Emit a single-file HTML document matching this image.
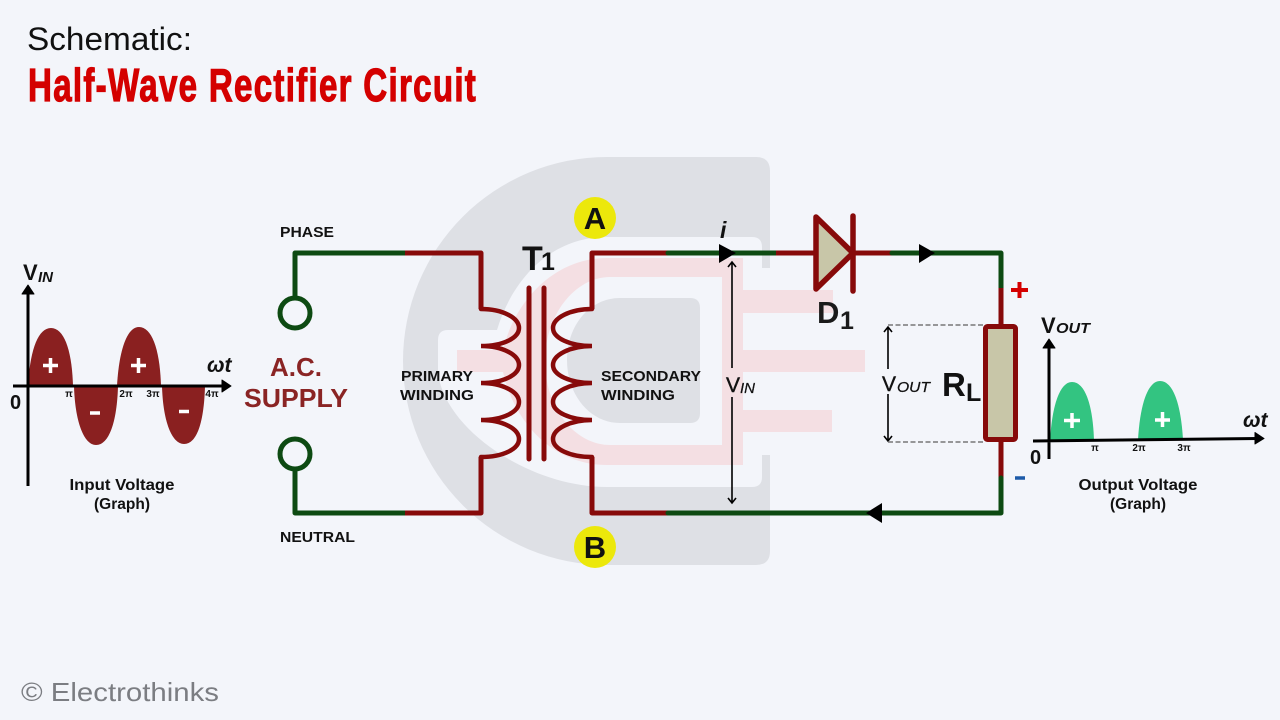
<!DOCTYPE html>
<html><head><meta charset="utf-8"><style>
html,body{margin:0;padding:0;background:#f3f5fa}
svg{display:block}
text{font-family:"Liberation Sans",sans-serif}
.b{font-weight:700;fill:#111}
.g{fill:none;stroke:#0d4a12;stroke-width:5;stroke-linejoin:round;stroke-linecap:round}
.r{fill:none;stroke:#870a0a;stroke-width:5;stroke-linejoin:round}
.c{fill:none;stroke:#870a0a;stroke-width:4.5;stroke-linecap:round}
.t{fill:none;stroke:#000;stroke-width:1.6}
</style></head><body>
<svg width="1280" height="720" viewBox="0 0 1280 720" xmlns="http://www.w3.org/2000/svg">
<rect width="1280" height="720" fill="#f3f5fa"/>
<!-- watermark -->
<path d="M756,157 Q770,157 770,171 V551 Q770,565 756,565 H607 A204,204 0 0 1 607,157 Z" fill="#dee0e5"/>
<path d="M775,268 H762 V247 Q762,237 752,237 H607 C550,237 512,280 497,330 H448 Q438,330 438,340 V373 C445,430 530,487 607,487 H752 Q762,487 762,477 V455 H775 Z" fill="#f3f5fa"/>
<path d="M743,258 H607 C555,258 515,300 503,350 H457 V372 H503 C515,425 555,465 607,465 H743 V432 H832 V410 H743 V372 H865 V350 H743 V313 H833 V290 H743 Z" fill="#f4dfe3"/>
<path d="M722,277 H610 C575,277 545,315 545,361 C545,408 575,445 610,445 H722 Z" fill="#f3f5fa"/>
<path d="M690,298 Q700,298 700,308 V413 Q700,423 690,423 H620 C590,423 567,395 567,360 C567,325 590,298 620,298 Z" fill="#dee0e5"/>
<!-- wires -->
<path class="g" d="M295,296 V253 H405"/>
<path class="g" d="M295,471 V513 H405"/>
<circle cx="295" cy="313" r="15" fill="none" stroke="#0d4a12" stroke-width="5"/>
<circle cx="295" cy="454" r="15" fill="none" stroke="#0d4a12" stroke-width="5"/>
<path class="r" d="M405,253 H481 V309"/>
<path class="r" d="M405,513 H481 V457"/>
<path class="c" d="M481,309 C503,309 519,318 519,328 C519,338 503,346 481,346 C503,346 519,355 519,365 C519,375 503,383 481,383 C503,383 519,392 519,402 C519,412 503,420 481,420 C503,420 519,429 519,439 C519,449 503,457 481,457"/>
<path class="c" d="M592,309 C570,309 553,318 553,328 C553,338 570,346 592,346 C570,346 553,355 553,365 C553,375 570,383 592,383 C570,383 553,392 553,402 C553,412 570,420 592,420 C570,420 553,429 553,439 C553,449 570,457 592,457"/>
<path d="M529,288 V459 M544,288 V459" fill="none" stroke="#870a0a" stroke-width="5" stroke-linecap="round"/>
<path class="r" d="M592,309 V253 H668"/>
<path class="r" d="M592,457 V513 H668"/>
<path class="g" stroke-linecap="butt" d="M668,253 H776"/>
<path class="r" d="M776,253 H816"/>
<path d="M816,217 L853,253 L816,289 Z" fill="#c8c6a8" stroke="#870a0a" stroke-width="5.5" stroke-linejoin="round"/>
<path d="M853,216 V291" fill="none" stroke="#870a0a" stroke-width="5.5" stroke-linecap="round"/>
<path class="r" d="M853,253 H892"/>
<path class="g" d="M892,253 H1001 V288"/>
<path class="r" d="M1001,288 V326"/>
<path class="r" d="M1001,440 V478"/>
<path class="g" d="M1001,478 V513 H668"/>
<rect x="985.500" y="326.500" width="30" height="113" rx="2" fill="#c8c6a8" stroke="#870a0a" stroke-width="5"/>
<!-- arrowheads -->
<path d="M719,244 V263 L736,253 Z M919,244 V263 L935,253 Z M882,503 V523 L866,513 Z" fill="#000"/>
<!-- VIN / VOUT arrows -->
<path class="t" d="M732,263 V368 M732,397 V503 M728,267 L732,262 L736,267 M728,498 L732,503 L736,498"/>
<path class="t" d="M888,327 V369 M888,394 V441 M884,332 L888,327 L892,332 M884,436 L888,441 L892,436"/>
<path d="M888,325 H984 M888,442 H984" fill="none" stroke="#777" stroke-width="1.600" stroke-dasharray="5 2.500"/>
<!-- badges -->
<circle cx="595" cy="218" r="21" fill="#ece80b"/>
<circle cx="595" cy="547" r="21" fill="#ece80b"/>
<text x="595" y="229" text-anchor="middle" class="b" font-size="31">A</text>
<text x="595" y="558" text-anchor="middle" class="b" font-size="31">B</text>
<!-- title -->
<text x="27" y="50" font-size="32" fill="#111" textLength="165" lengthAdjust="spacingAndGlyphs">Schematic:</text>
<text transform="translate(28,101) scale(.72,1)" x="0" y="0" font-size="46" font-weight="700" fill="#d40000" stroke="#d40000" stroke-width="1.200" textLength="622" lengthAdjust="spacing">Half-Wave Rectifier Circuit</text>
<text x="21" y="701" font-size="26" fill="#7b7d82" textLength="198" lengthAdjust="spacingAndGlyphs">© Electrothinks</text>
<!-- labels -->
<text x="280" y="237" class="b" font-size="15" textLength="54" lengthAdjust="spacingAndGlyphs">PHASE</text>
<text x="280" y="542" class="b" font-size="15" textLength="75" lengthAdjust="spacingAndGlyphs">NEUTRAL</text>
<text x="296" y="376" text-anchor="middle" font-size="26" font-weight="700" fill="#8a2424">A.C.</text>
<text x="296" y="407" text-anchor="middle" font-size="26" font-weight="700" fill="#8a2424" textLength="104" lengthAdjust="spacingAndGlyphs">SUPPLY</text>
<text x="401" y="381" class="b" font-size="15" textLength="72" lengthAdjust="spacingAndGlyphs">PRIMARY</text>
<text x="400" y="400" class="b" font-size="15" textLength="74" lengthAdjust="spacingAndGlyphs">WINDING</text>
<text x="601" y="381" class="b" font-size="15" textLength="100" lengthAdjust="spacingAndGlyphs">SECONDARY</text>
<text x="601" y="400" class="b" font-size="15" textLength="74" lengthAdjust="spacingAndGlyphs">WINDING</text>
<text x="522" y="270" font-size="34" font-weight="700" fill="#111">T</text>
<text x="541" y="270" font-size="25" font-weight="700" fill="#111">1</text>
<text x="720" y="238" class="b" font-size="23" font-style="italic">i</text>
<text x="817" y="323" font-size="31" font-weight="700" fill="#1a1a1a">D</text>
<text x="840" y="329" font-size="25" font-weight="700" fill="#1a1a1a">1</text>
<text x="942" y="396" font-size="33" font-weight="700" fill="#111">R</text>
<text x="966" y="401" font-size="25" font-weight="700" fill="#111">L</text>
<text x="726" y="392" font-size="21" fill="#111" stroke="#111" stroke-width=".4">V</text>
<text x="740" y="393" font-size="15" font-style="italic" fill="#111" stroke="#111" stroke-width=".25">IN</text>
<text x="882" y="391" font-size="21" fill="#111" stroke="#111" stroke-width=".4">V</text>
<text x="897" y="392" font-size="15" font-style="italic" fill="#111" stroke="#111" stroke-width=".25" textLength="33" lengthAdjust="spacingAndGlyphs">OUT</text>
<path d="M1011,290 H1028 M1019.500,282 V298" stroke="#d40000" stroke-width="4" fill="none"/>
<path d="M1015,478 H1025" stroke="#1d5aa8" stroke-width="3.500" fill="none"/>
<!-- input graph -->
<path d="M28,386 C30,350 38,328 51,328 C64,328 72,350 73,386 Z" fill="#8a2020"/>
<path d="M74,386 C75,422 84,445 96,445 C109,445 117,422 118,386 Z" fill="#8a2020"/>
<path d="M117,386 C119,350 127,327 139,327 C152,327 160,350 161,386 Z" fill="#8a2020"/>
<path d="M162,386 C163,422 172,444 184,444 C197,444 204,422 205,386 Z" fill="#8a2020"/>
<path d="M43,365.500 H58 M50.500,358 V373 M131,365.500 H146 M138.500,358 V373" stroke="#fff" stroke-width="3.500" fill="none"/>
<path d="M90,413 H100 M179,411.500 H189" stroke="#fff" stroke-width="3.500" fill="none"/>
<path d="M28,290 V486 M13,386 H225" stroke="#000" stroke-width="3" fill="none"/>
<path d="M22,294 L28,285 L34,294 Z M222,380 L231,386 L222,392 Z" fill="#000" stroke="#000" stroke-linejoin="round"/>
<text x="23" y="280" class="b" font-size="22">V</text>
<text x="38" y="282" class="b" font-size="15" font-style="italic">IN</text>
<text x="207" y="372" class="b" font-size="21" font-style="italic">ωt</text>
<text x="10" y="409" class="b" font-size="20">0</text>
<text x="69" y="397" text-anchor="middle" class="b" font-size="10">π</text>
<text x="126" y="397" text-anchor="middle" class="b" font-size="10">2π</text>
<text x="153" y="397" text-anchor="middle" class="b" font-size="10">3π</text>
<text x="212" y="397" text-anchor="middle" class="b" font-size="10">4π</text>
<text x="122" y="490" text-anchor="middle" class="b" font-size="15.500" textLength="105" lengthAdjust="spacingAndGlyphs">Input Voltage</text>
<text x="122" y="509" text-anchor="middle" class="b" font-size="15.500">(Graph)</text>
<!-- output graph -->
<path d="M1050,441 C1052,405 1060,382 1072,382 C1085,382 1093,405 1094,441 Z" fill="#33c481"/>
<path d="M1138,440 C1140,404 1148,381 1160,381 C1173,381 1181,404 1183,440 Z" fill="#33c481"/>
<path d="M1064,420.500 H1080 M1072,413 V428 M1155,420 H1170 M1162.500,412 V427" stroke="#fff" stroke-width="3.500" fill="none"/>
<path d="M1049,344 V459 M1033,441 L1258,438.500" stroke="#000" stroke-width="3" fill="none"/>
<path d="M1043,348 L1049,339 L1055,348 Z M1255,432.500 L1264,438.500 L1255,444 Z" fill="#000" stroke="#000" stroke-linejoin="round"/>
<text x="1041" y="333" class="b" font-size="22">V</text>
<text x="1056" y="333" class="b" font-size="15" font-style="italic" textLength="34" lengthAdjust="spacingAndGlyphs">OUT</text>
<text x="1243" y="427" class="b" font-size="21" font-style="italic">ωt</text>
<text x="1030" y="464" class="b" font-size="20">0</text>
<text x="1095" y="451" text-anchor="middle" class="b" font-size="10">π</text>
<text x="1139" y="451" text-anchor="middle" class="b" font-size="10">2π</text>
<text x="1184" y="451" text-anchor="middle" class="b" font-size="10">3π</text>
<text x="1138" y="490" text-anchor="middle" class="b" font-size="15.500" textLength="119" lengthAdjust="spacingAndGlyphs">Output Voltage</text>
<text x="1138" y="509" text-anchor="middle" class="b" font-size="15.500">(Graph)</text>
</svg>
</body></html>
